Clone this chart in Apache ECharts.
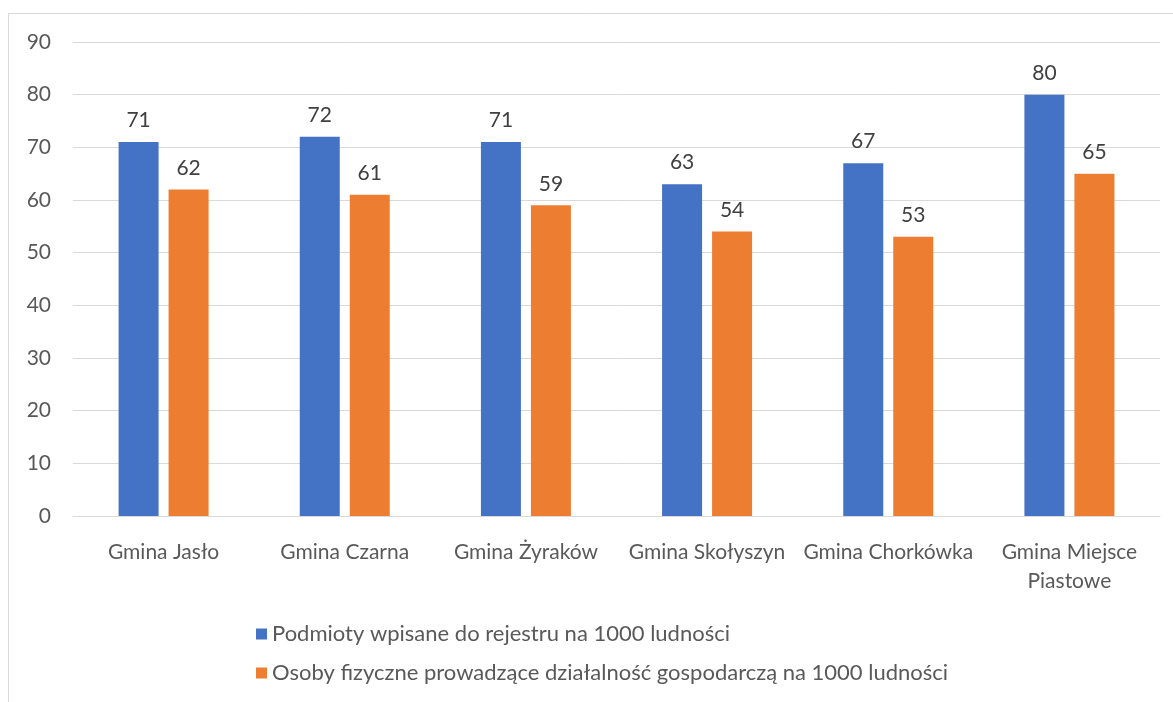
<!DOCTYPE html>
<html>
<head>
    <meta charset="utf-8">
    <script src="https://cdn.jsdelivr.net/npm/echarts@6/dist/echarts.min.js"></script>
    <title>Podmioty na 1000 ludności</title>
    <style>
        body { margin: 0; background: #fff; }
        #main { width: 1173px; height: 702px; }
    </style>
</head>
<body>
    <div id="main"></div>
    <script type="text/javascript">
    var gminy = ['Gmina Jasło', 'Gmina Czarna', 'Gmina Żyraków', 'Gmina Skołyszyn', 'Gmina Chorkówka', 'Gmina Miejsce\nPiastowe'];
    var podmioty = [71, 72, 71, 63, 67, 80];
    var osoby = [62, 61, 59, 54, 53, 65];

    var font = 'Lato';
    var txt = '#595959';

    var myChart = echarts.init(document.getElementById('main'));
    myChart.setOption({
        animation: false,
        textStyle: { fontFamily: font },
        graphic: [{
            type: 'polyline',
            shape: { points: [[8.5, 702], [8.5, 13.5], [1173, 13.5]] },
            style: { fill: null, stroke: '#d9d9d9', lineWidth: 1 }
        }],
        grid: { left: 73, right: 13, top: 42, bottom: 186 },
        legend: {
            orient: 'vertical',
            left: 251,
            top: 618,
            itemGap: 17,
            itemWidth: 11,
            itemHeight: 11,
            icon: 'rect',
            textStyle: { fontFamily: font, fontSize: 22, color: txt }
        },
        xAxis: {
            type: 'category',
            data: gminy,
            axisTick: { show: false },
            axisLine: { lineStyle: { color: '#d9d9d9', width: 1 } },
            axisLabel: { fontFamily: font, fontSize: 21, color: txt, margin: 22, lineHeight: 29, interval: 0 }
        },
        yAxis: {
            type: 'value',
            min: 0,
            max: 90,
            interval: 10,
            axisLine: { show: false },
            axisTick: { show: false },
            splitLine: { lineStyle: { color: '#d9d9d9', width: 1 } },
            axisLabel: { fontFamily: font, fontSize: 21, color: txt, margin: 22 }
        },
        series: [{
            name: 'Podmioty wpisane do rejestru na 1000 ludności',
            type: 'bar',
            data: podmioty,
            barWidth: 40,
            barGap: '25%',
            itemStyle: { color: '#4472C4' },
            label: { show: true, position: 'top', distance: 11, fontFamily: font, fontSize: 21, color: '#404040' }
        }, {
            name: 'Osoby fizyczne prowadzące działalność gospodarczą na 1000 ludności',
            type: 'bar',
            data: osoby,
            barWidth: 40,
            itemStyle: { color: '#ED7D31' },
            label: { show: true, position: 'top', distance: 11, fontFamily: font, fontSize: 21, color: '#404040' }
        }]
    });
    </script>
</body>
</html>
